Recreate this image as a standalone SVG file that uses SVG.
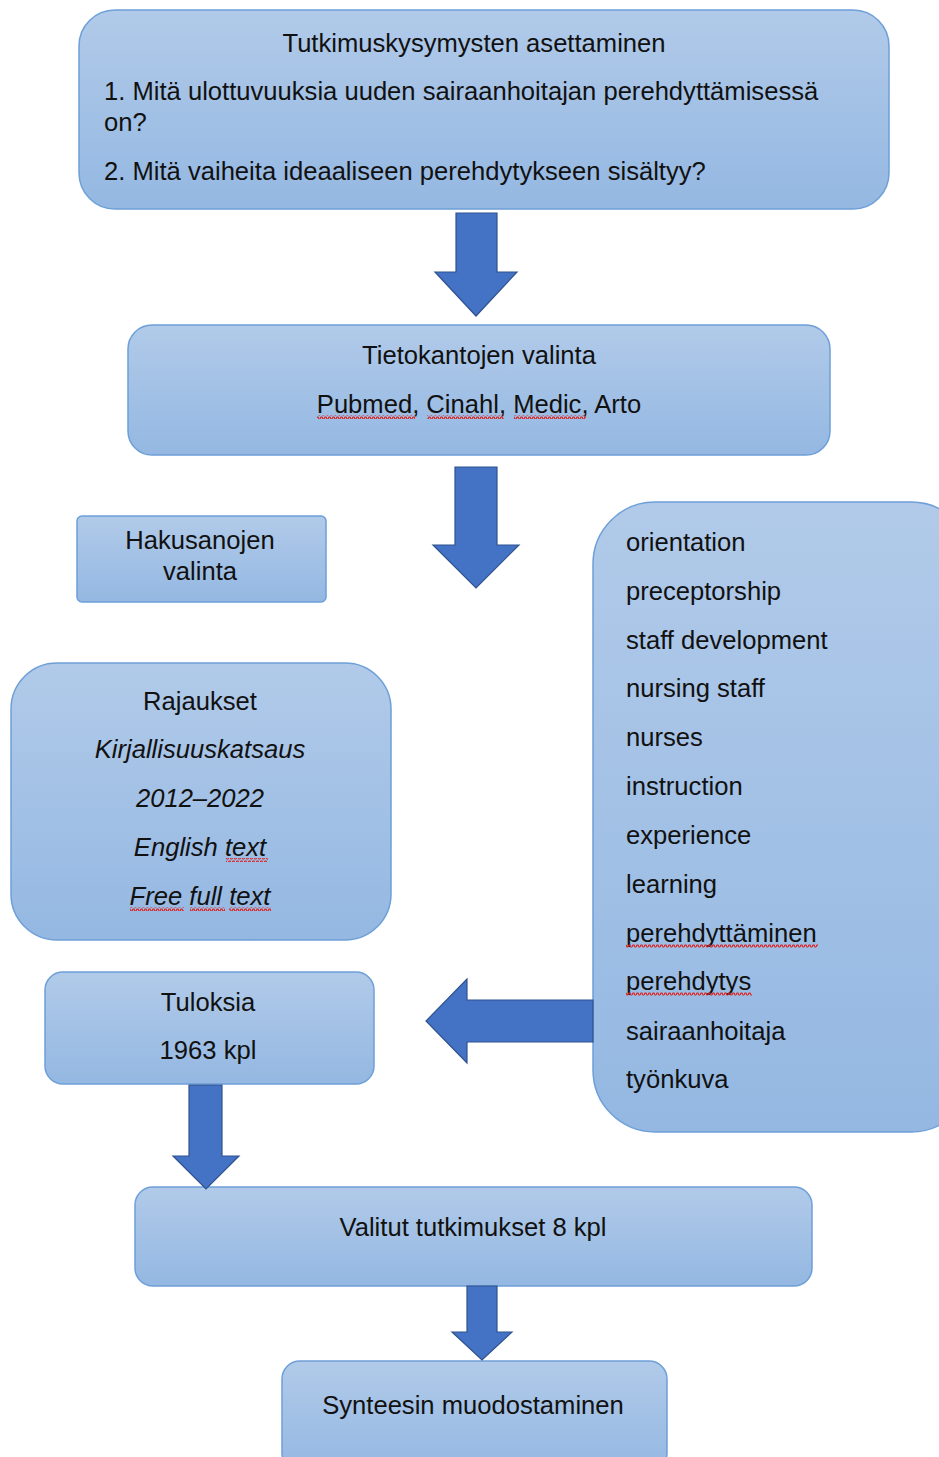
<svg xmlns="http://www.w3.org/2000/svg" width="939" height="1457" viewBox="0 0 939 1457">
  <defs>
    <linearGradient id="boxFill" x1="0" y1="0" x2="0" y2="1">
      <stop offset="0" stop-color="#b1cae9"/>
      <stop offset="1" stop-color="#94b8e2"/>
    </linearGradient>
    <!-- red squiggle used for spell-check underlines -->
    <pattern id="squiggle" width="4" height="4" patternUnits="userSpaceOnUse">
      <path d="M0,3 L1,1 L2,1 L3,3 L4,3" fill="none" stroke="#e0201c" stroke-width="1.2"/>
    </pattern>
    <style>
      .box { fill: url(#boxFill); stroke: #6d9fd8; stroke-width: 1.5; }
      .arrow { fill: #4472c4; stroke: #2f528f; stroke-width: 1.2; }
      text { font-family: "Liberation Sans", Arial, sans-serif; font-size: 25.6px; fill: #111; }
      .c { text-anchor: middle; }
      .i { font-style: italic; }
      .sq { fill: url(#squiggle); }
    </style>
  </defs>

  <g id="questions">
    <rect class="box" x="79" y="10" width="810" height="199" rx="36"/>
    <text class="c" x="474" y="52">Tutkimuskysymysten asettaminen</text>
    <text x="104" y="100">1. Mitä ulottuvuuksia uuden sairaanhoitajan perehdyttämisessä</text>
    <text x="104" y="131">on?</text>
    <text x="104" y="180">2. Mitä vaiheita ideaaliseen perehdytykseen sisältyy?</text>
  </g>

  <g id="databases">
    <rect class="box" x="128" y="325" width="702" height="130" rx="24"/>
    <text class="c" x="479" y="364">Tietokantojen valinta</text>
    <text class="c" x="479" y="413">Pubmed, Cinahl, Medic, Arto</text>
    <rect class="sq" x="317" y="415" width="98" height="4"/>
    <rect class="sq" x="427" y="415" width="77" height="4"/>
    <rect class="sq" x="514" y="415" width="72" height="4"/>
  </g>

  <g id="keyword-selection">
    <rect class="box" x="77" y="516" width="249" height="86" rx="5"/>
    <text class="c" x="200" y="549">Hakusanojen</text>
    <text class="c" x="200" y="580">valinta</text>
  </g>

  <g id="keywords">
    <rect class="box" x="593" y="502" width="380" height="630" rx="62"/>
    <text x="626" y="551">orientation</text>
    <text x="626" y="600">preceptorship</text>
    <text x="626" y="649">staff development</text>
    <text x="626" y="697">nursing staff</text>
    <text x="626" y="746">nurses</text>
    <text x="626" y="795">instruction</text>
    <text x="626" y="844">experience</text>
    <text x="626" y="893">learning</text>
    <text x="626" y="942">perehdyttäminen</text>
    <rect class="sq" x="626" y="944" width="192" height="4"/>
    <text x="626" y="990">perehdytys</text>
    <rect class="sq" x="626" y="992" width="126" height="4"/>
    <text x="626" y="1040">sairaanhoitaja</text>
    <text x="626" y="1088">työnkuva</text>
  </g>

  <g id="limits">
    <rect class="box" x="11" y="663" width="380" height="277" rx="46"/>
    <text class="c" x="200" y="710">Rajaukset</text>
    <text class="c i" x="200" y="758">Kirjallisuuskatsaus</text>
    <text class="c i" x="200" y="807">2012–2022</text>
    <text class="c i" x="200" y="856">English text</text>
    <rect class="sq" x="226" y="858" width="42" height="4"/>
    <text class="c i" x="200" y="905">Free full text</text>
    <rect class="sq" x="130" y="907" width="54" height="4"/>
    <rect class="sq" x="190" y="907" width="35" height="4"/>
    <rect class="sq" x="229" y="907" width="42" height="4"/>
  </g>

  <g id="results">
    <rect class="box" x="45" y="972" width="329" height="112" rx="18"/>
    <text class="c" x="208" y="1011">Tuloksia</text>
    <text class="c" x="208" y="1059">1963 kpl</text>
  </g>

  <g id="selected-studies">
    <rect class="box" x="135" y="1187" width="677" height="99" rx="18"/>
    <text class="c" x="473" y="1236">Valitut tutkimukset 8 kpl</text>
  </g>

  <g id="synthesis">
    <rect class="box" x="282" y="1361" width="385" height="110" rx="18"/>
    <text class="c" x="473" y="1414">Synteesin muodostaminen</text>
  </g>

  <g id="connectors">
    <path class="arrow" d="M456,213 H497 V272 H517 L476,316 L435,272 H456 Z"/>
    <path class="arrow" d="M455,467 H497 V545 H519 L476,588 L433,545 H455 Z"/>
    <path class="arrow" d="M593,1000 H467 V979 L426,1021 L467,1063 V1042 H593 Z"/>
    <path class="arrow" d="M189,1085 H222 V1156 H239 L206,1189 L173,1156 H189 Z"/>
    <path class="arrow" d="M467,1286 H497 V1332 H512 L482,1360 L452,1332 H467 Z"/>
  </g>
</svg>
